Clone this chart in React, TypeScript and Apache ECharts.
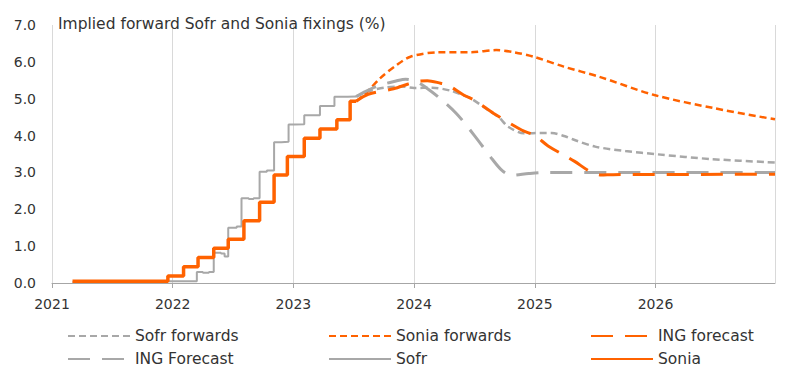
import React, { useEffect, useRef } from "react";
import * as echarts from "echarts";

const FONT = "DejaVu Sans";
const ORANGE = "#FF6200";
const GREY = "#A8A8A8";

const yTicks = [0, 1, 2, 3, 4, 5, 6, 7];
const yearTicks = [2021, 2022, 2023, 2024, 2025, 2026];

// [decimal year, %]
const soniaFixings: [number, number][] = [
  [2021.17, 0.05], [2021.96, 0.19], [2022.09, 0.44], [2022.21, 0.69], [2022.34, 0.94],
  [2022.46, 1.19], [2022.59, 1.69], [2022.72, 2.19], [2022.84, 2.93], [2022.95, 3.43],
  [2023.09, 3.93], [2023.22, 4.18], [2023.36, 4.43], [2023.47, 4.93], [2023.52, 4.93],
];

const sofrFixings: [number, number][] = [
  [2021.17, 0.03], [2021.5, 0.05], [2022.2, 0.3], [2022.25, 0.28], [2022.3, 0.3],
  [2022.34, 0.82], [2022.4, 0.8], [2022.43, 0.72], [2022.46, 1.5], [2022.53, 1.53],
  [2022.57, 2.3], [2022.63, 2.28], [2022.67, 2.3], [2022.72, 3.02], [2022.78, 3.05],
  [2022.84, 3.82], [2022.9, 3.83], [2022.96, 4.3], [2023.01, 4.31], [2023.09, 4.55],
  [2023.22, 4.8], [2023.34, 5.05], [2023.45, 5.06], [2023.52, 5.06],
];

const sofrForwards: [number, number][] = [
  [2023.52, 5.06], [2023.62, 5.2], [2023.75, 5.3], [2023.9, 5.33], [2024.0, 5.29],
  [2024.15, 5.3], [2024.3, 5.22], [2024.4, 5.1], [2024.47, 5.01], [2024.6, 4.72],
  [2024.7, 4.5], [2024.78, 4.24], [2024.91, 4.06], [2025.05, 4.07], [2025.14, 4.07],
  [2025.25, 3.98], [2025.33, 3.88], [2025.5, 3.7], [2025.75, 3.58], [2026.02, 3.49],
  [2026.47, 3.36], [2026.99, 3.27],
];

const soniaForwards: [number, number][] = [
  [2023.52, 4.93], [2023.6, 5.15], [2023.72, 5.56], [2023.85, 5.9], [2023.97, 6.14],
  [2024.2, 6.26], [2024.47, 6.26], [2024.68, 6.32], [2024.83, 6.26], [2024.99, 6.14],
  [2025.24, 5.87], [2025.53, 5.6], [2025.99, 5.1], [2026.49, 4.74], [2026.99, 4.44],
];

const ingForecastSonia: [number, number][] = [
  [2023.52, 4.93], [2023.62, 5.12], [2023.83, 5.27], [2023.95, 5.4], [2024.01, 5.46],
  [2024.11, 5.49], [2024.22, 5.42], [2024.28, 5.37], [2024.41, 5.1], [2024.5, 4.96],
  [2024.66, 4.6], [2024.89, 4.15], [2025.0, 4.0], [2025.11, 3.72], [2025.33, 3.3],
  [2025.45, 3.04], [2025.55, 2.93], [2025.65, 2.94], [2026.99, 2.95],
];

const ingForecastSofr: [number, number][] = [
  [2023.52, 5.06], [2023.6, 5.2], [2023.72, 5.37], [2023.85, 5.48], [2023.93, 5.53],
  [2024.02, 5.46], [2024.1, 5.3], [2024.2, 5.05], [2024.35, 4.6], [2024.5, 4.0],
  [2024.65, 3.35], [2024.73, 3.05], [2024.81, 2.92], [2024.95, 2.97], [2025.1, 3.0],
  [2026.99, 3.0],
];

const legendCols = [
  ["Sofr forwards", "ING Forecast"],
  ["Sonia forwards", "Sofr"],
  ["ING forecast", "Sonia"],
];

export default function App() {
  const ref = useRef<HTMLDivElement>(null);
  useEffect(() => {
    if (!ref.current) return;
    const chart = echarts.init(ref.current, null, { renderer: "svg" });
    const axisText = { fontFamily: FONT, fontSize: 14, color: "#333333" };
    const bigText = { fontFamily: FONT, fontSize: 15.5, color: "#333333" };
    const legendLefts = [67, 328, 590];
    chart.setOption({
      animation: false,
      textStyle: { fontFamily: FONT },
      title: {
        text: "Implied forward Sofr and Sonia fixings (%)",
        left: 58,
        top: 16,
        padding: 0,
        textStyle: { ...bigText, fontWeight: "normal" },
      },
      grid: { left: 52, right: 25, top: 25, bottom: 101, containLabel: false },
      legend: legendCols.map((col, i) => ({
        data: col,
        left: legendLefts[i],
        top: 328,
        orient: "vertical",
        itemWidth: 62,
        itemHeight: 14,
        itemGap: 7,
        padding: 0,
        textStyle: bigText,
        itemStyle: { opacity: 0 },
        selectedMode: false,
      })),
      xAxis: {
        type: "value",
        min: yearTicks[0],
        max: 2026.99,
        interval: 1,
        axisLine: { lineStyle: { color: "#A6A6A6", width: 1 } },
        axisTick: { show: true, length: 5, lineStyle: { color: "#A6A6A6" } },
        axisLabel: {
          ...axisText,
          margin: 14,
          showMaxLabel: false,
          formatter: (v: number) => (Number.isInteger(v) ? String(v) : ""),
        },
        splitLine: { show: true, lineStyle: { color: "#D9D9D9", width: 1 } },
      },
      yAxis: {
        type: "value",
        min: yTicks[0],
        max: yTicks[yTicks.length - 1],
        interval: 1,
        axisLine: { show: false },
        axisTick: { show: false },
        axisLabel: { ...axisText, margin: 16, formatter: (v: number) => v.toFixed(1) },
        splitLine: { show: false },
      },
      series: [
        {
          name: "Sofr forwards", type: "line", data: sofrForwards, symbol: "none", smooth: 0.3,
          lineStyle: { color: GREY, width: 2.5, type: [7, 4] }, itemStyle: { color: GREY },
        },
        {
          name: "Sonia forwards", type: "line", data: soniaForwards, symbol: "none", smooth: 0.3,
          lineStyle: { color: ORANGE, width: 2.5, type: [7, 4] }, itemStyle: { color: ORANGE },
        },
        {
          name: "ING Forecast", type: "line", data: ingForecastSofr, symbol: "none", smooth: 0.3,
          lineStyle: { color: GREY, width: 3, type: [22, 12] }, itemStyle: { color: GREY },
        },
        {
          name: "ING forecast", type: "line", data: ingForecastSonia, symbol: "none", smooth: 0.3,
          lineStyle: { color: ORANGE, width: 3, type: [22, 12] }, itemStyle: { color: ORANGE },
        },
        {
          name: "Sofr", type: "line", data: sofrFixings, symbol: "none", step: "end",
          lineStyle: { color: GREY, width: 2 }, itemStyle: { color: GREY },
        },
        {
          name: "Sonia", type: "line", data: soniaFixings, symbol: "none", step: "end",
          lineStyle: { color: ORANGE, width: 3.5 }, itemStyle: { color: ORANGE },
        },
      ],
    });
    return () => chart.dispose();
  }, []);
  return <div ref={ref} style={{ width: 800, height: 384, position: "absolute", left: 0, top: 0 }} />;
}
